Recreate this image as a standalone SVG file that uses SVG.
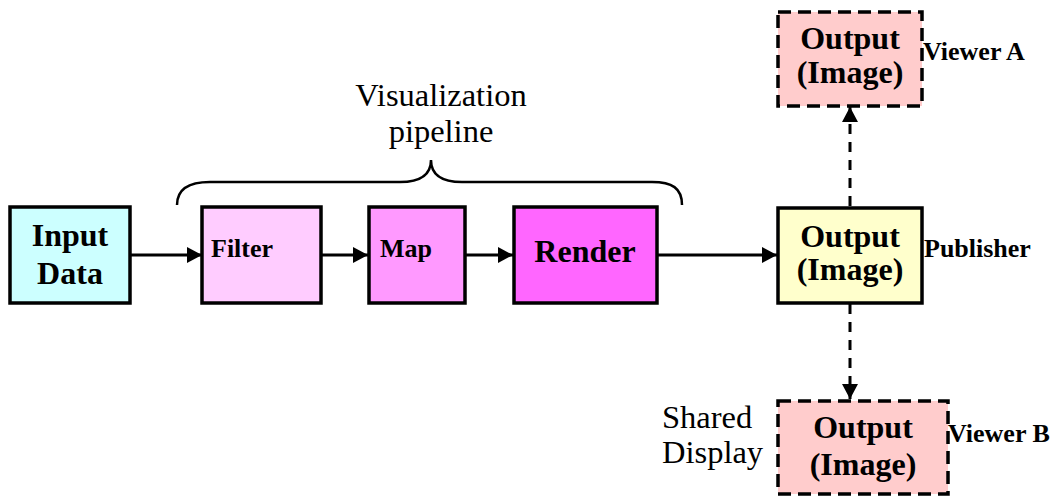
<svg xmlns="http://www.w3.org/2000/svg" width="1055" height="498" viewBox="0 0 1055 498">
<defs>
<style>
.box{stroke:#000;stroke-width:3.5}
.dash{stroke-dasharray:13,7}
.lbl{font-family:"Liberation Serif","Times New Roman",serif;font-weight:bold;fill:#000}
.big{font-size:32px;text-anchor:middle}
.mid{font-size:26px}
.plain{font-family:"Liberation Serif","Times New Roman",serif;font-size:32.5px;fill:#000}
.conn{stroke:#000;stroke-width:3;fill:none}
.cdash{stroke-dasharray:10,8}
</style>
<marker id="ah" markerUnits="userSpaceOnUse" markerWidth="16" markerHeight="16" refX="15" refY="8" orient="auto">
<path d="M0,0 L15,8 L0,16 z" fill="#000"/>
</marker>
</defs>
<rect width="1055" height="498" fill="#fff"/>
<g id="connectors">
<line class="conn" x1="131" y1="255" x2="202" y2="255" marker-end="url(#ah)"/>
<line class="conn" x1="322" y1="255" x2="368" y2="255" marker-end="url(#ah)"/>
<line class="conn" x1="466" y1="255" x2="513" y2="255" marker-end="url(#ah)"/>
<line class="conn" x1="658" y1="255" x2="777" y2="255" marker-end="url(#ah)"/>
<line class="conn cdash" x1="850" y1="206" x2="850" y2="107" marker-end="url(#ah)"/>
<line class="conn cdash" x1="850" y1="304" x2="850" y2="399" marker-end="url(#ah)"/>
</g>
<g id="brace">
<path d="M177,205 C177,188 190,182 210,182 L400,182 C421,182 431,175 431,160 C431,175 441,182 462,182 L652,182 C672,182 682,188 682,205" fill="none" stroke="#000" stroke-width="2.5"/>
<text class="plain" x="441" y="106" text-anchor="middle">Visualization</text>
<text class="plain" x="441" y="142" text-anchor="middle">pipeline</text>
</g>
<g id="input">
<rect class="box" x="10" y="207" width="120" height="96" fill="#CCFFFF"/>
<text class="lbl big" x="70" y="246">Input</text>
<text class="lbl big" x="70" y="284">Data</text>
</g>
<g id="filter">
<rect class="box" x="202" y="207" width="119" height="96" fill="#FFCCFF"/>
<text class="lbl mid" x="211" y="257">Filter</text>
</g>
<g id="map">
<rect class="box" x="369" y="207" width="96" height="96" fill="#FF99FF"/>
<text class="lbl mid" x="380" y="257">Map</text>
</g>
<g id="render">
<rect class="box" x="514" y="207" width="143" height="96" fill="#FF66FF"/>
<text class="lbl big" x="585" y="262">Render</text>
</g>
<g id="publisher">
<rect class="box" x="778" y="208" width="144" height="95" fill="#FFFFCC"/>
<text class="lbl big" x="850" y="247">Output</text>
<text class="lbl big" x="850" y="280">(Image)</text>
<text class="lbl mid" x="924" y="257">Publisher</text>
</g>
<g id="viewerA">
<rect class="box dash" x="778" y="12" width="144" height="94" fill="#FFCCCC"/>
<text class="lbl big" x="850" y="49">Output</text>
<text class="lbl big" x="850" y="83">(Image)</text>
<text class="lbl mid" x="923" y="60">Viewer A</text>
</g>
<g id="viewerB">
<rect class="box dash" x="778" y="401" width="170" height="93" fill="#FFCCCC"/>
<text class="lbl big" x="863" y="438">Output</text>
<text class="lbl big" x="863" y="475">(Image)</text>
<text class="lbl mid" x="948" y="442">Viewer B</text>
<text class="plain" x="662" y="428">Shared</text>
<text class="plain" x="662" y="463">Display</text>
</g>
</svg>
